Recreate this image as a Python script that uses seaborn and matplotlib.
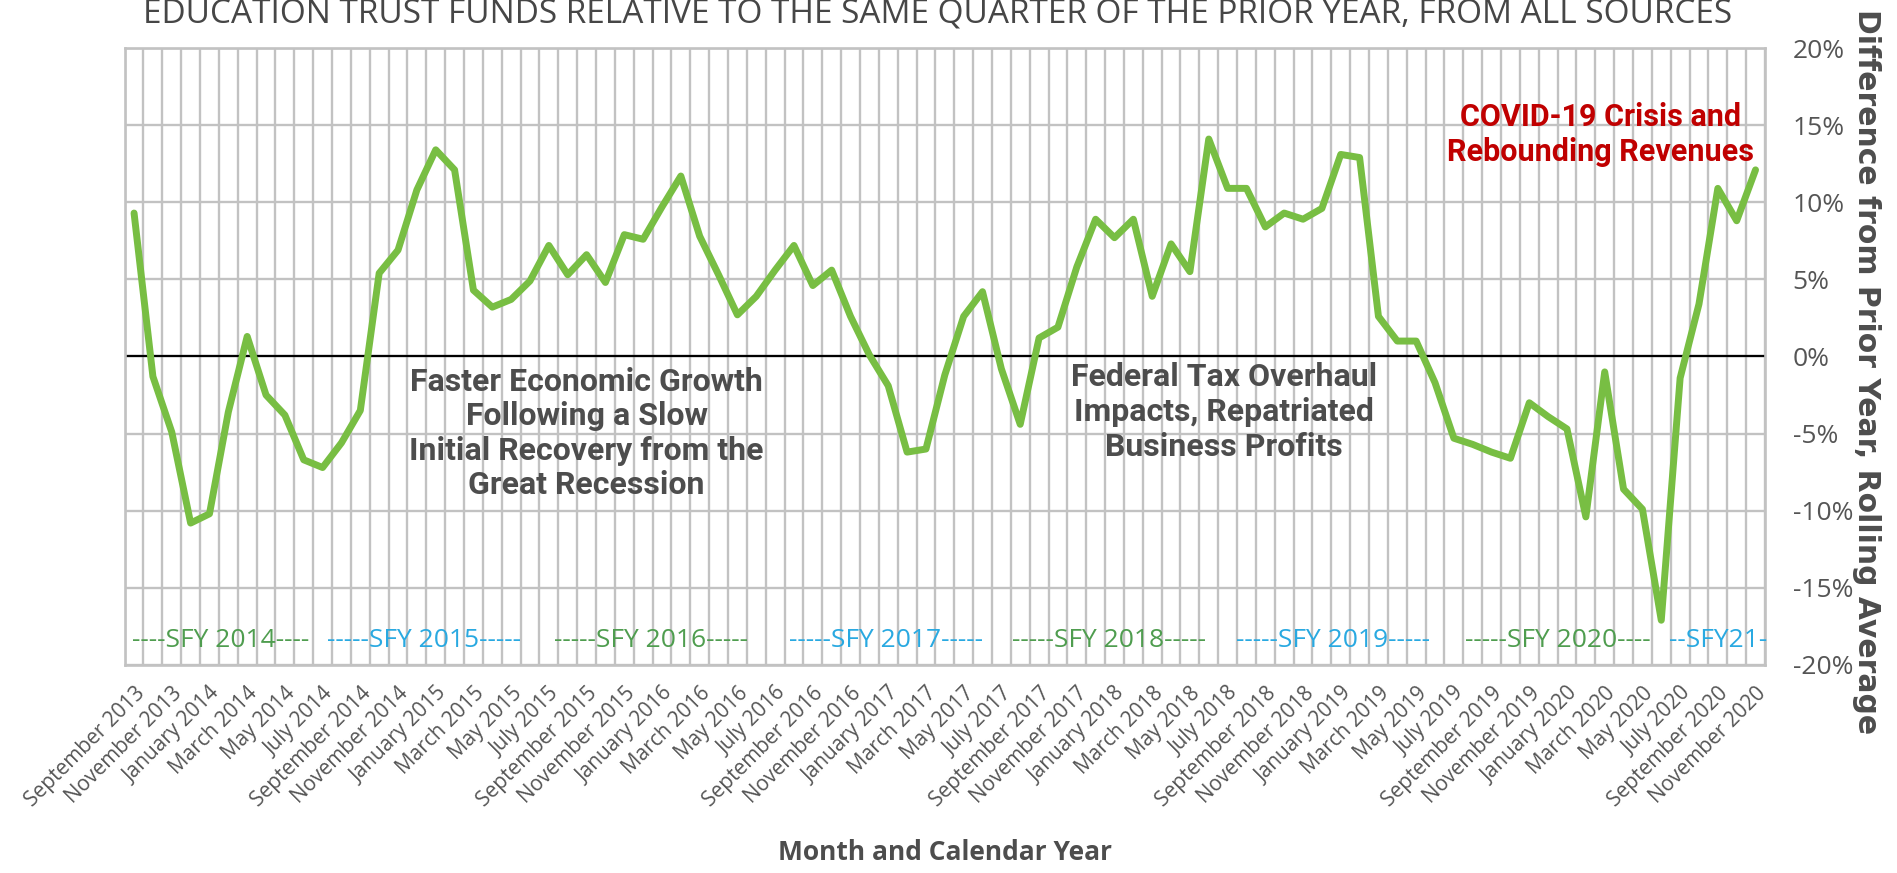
import matplotlib
matplotlib.use("Agg")
import matplotlib.pyplot as plt
import seaborn as sns
import pandas as pd
import numpy as np
from matplotlib.ticker import FixedLocator, FuncFormatter

# ---------------- data ----------------
month_names = ["January", "February", "March", "April", "May", "June", "July",
               "August", "September", "October", "November", "December"]
start_year = 2013
start_month = 9  # September 2013

values = [9.3, -1.3, -4.9, -10.8, -10.2, -3.6, 1.3, -2.5, -3.8, -6.7,
          -7.2, -5.6, -3.5, 5.4, 6.9, 10.8, 13.4, 12.1, 4.3, 3.2,
          3.7, 4.9, 7.2, 5.3, 6.6, 4.8, 7.9, 7.6, 9.7, 11.7,
          7.8, 5.3, 2.7, 3.9, 5.6, 7.2, 4.6, 5.6, 2.6, 0.1,
          -1.9, -6.2, -6.0, -1.2, 2.6, 4.2, -0.8, -4.4, 1.2, 1.9,
          5.8, 8.9, 7.7, 8.9, 3.9, 7.3, 5.5, 14.1, 10.9, 10.9,
          8.4, 9.3, 8.9, 9.6, 13.1, 12.9, 2.6, 1.0, 1.0, -1.7,
          -5.3, -5.7, -6.2, -6.6, -3.0, -3.9, -4.7, -10.4, -1.0, -8.6,
          -9.9, -17.1, -1.4, 3.4, 10.9, 8.8, 12.1]

labels = []
for i in range(len(values)):
    m = (start_month - 1 + i) % 12
    y = start_year + (start_month - 1 + i) // 12
    labels.append(f"{month_names[m]} {y}")

sfy_labels = ["----SFY 2014----", "-----SFY 2015-----", "-----SFY 2016-----",
              "-----SFY 2017-----", "-----SFY 2018-----", "-----SFY 2019-----",
              "-----SFY 2020----", "--SFY21-"]
sfy_centers = [4.6, 15.4, 27.4, 39.9, 51.7, 63.6, 75.5, 84.0]
sfy_colors = ["#4f9d4f", "#29a9e1", "#4f9d4f", "#29a9e1",
              "#4f9d4f", "#29a9e1", "#4f9d4f", "#29a9e1"]

y_ticks = [-20, -15, -10, -5, 0, 5, 10, 15, 20]

df = pd.DataFrame({"idx": np.arange(len(values)), "value": values})

# ---------------- figure ----------------
sns.set_style("white")
plt.rcParams["font.family"] = ["Open Sans", "DejaVu Sans"]

W, H = 1897, 873
fig = plt.figure(figsize=(W / 100, H / 100), dpi=100)
ax = fig.add_axes([0.0657, 0.2383, 0.8647, 0.7067])

grid_c = "#c2c2c2"
n = len(values)
ax.set_xlim(-0.5, n - 0.5)
ax.set_ylim(-20, 20)

# vertical gridlines at category boundaries
ax.xaxis.set_minor_locator(FixedLocator(np.arange(n + 1) - 0.5))
ax.xaxis.set_major_locator(FixedLocator(np.arange(0, n, 2)))
ax.set_xticklabels(labels[::2], rotation=45, ha="right", rotation_mode="anchor",
                   fontsize=15, color="#555555")
ax.grid(which="minor", axis="x", color=grid_c, lw=1.7)
ax.grid(which="major", axis="x", visible=False)
ax.yaxis.set_major_locator(FixedLocator(y_ticks))
ax.grid(which="major", axis="y", color=grid_c, lw=1.7)
ax.tick_params(axis="x", which="both", length=0, pad=13)
ax.set_axisbelow(True)

for s in ax.spines.values():
    s.set_color(grid_c)
    s.set_linewidth(1.9)

ax.axhline(0, color="black", lw=1.6, zorder=2)

sns.lineplot(data=df, x="idx", y="value", ax=ax, color="#78be43", lw=5,
             zorder=3, legend=False)

# right y axis
ax.yaxis.tick_right()
ax.yaxis.set_major_formatter(FuncFormatter(lambda v, p: f"{v:.0f}%"))
ax.tick_params(axis="y", length=0, pad=20, labelsize=19, labelcolor="#555555")

ax.set_xlabel("Month and Calendar Year", fontsize=19, fontweight="bold",
              color="#4d4d4d", labelpad=20)
ax.set_ylabel("")
fig.text(1867 / W, 1 - 372 / H, "Difference from Prior Year, Rolling Average",
         rotation=270, ha="center", va="center", fontsize=21.5,
         fontweight="bold", color="#4d4d4d", family=["DejaVu Sans"])

# SFY labels
for lab, cx, col in zip(sfy_labels, sfy_centers, sfy_colors):
    ax.text(cx, -18.4, lab, ha="center", va="center", fontsize=19, color=col,
            zorder=4)

# annotations
ann_font = ["Roboto", "DejaVu Sans"]
ax.text(24.0, -5.0, "Faster Economic Growth\nFollowing a Slow\nInitial Recovery from the\nGreat Recession",
        ha="center", va="center", fontsize=23, fontweight="bold", color="#4d4d4d",
        family=ann_font, linespacing=1.19, zorder=4)
ax.text(57.8, -3.6, "Federal Tax Overhaul\nImpacts, Repatriated\nBusiness Profits",
        ha="center", va="center", fontsize=23, fontweight="bold", color="#4d4d4d",
        family=ann_font, linespacing=1.19, zorder=4)
ax.text(77.8, 14.4, "COVID-19 Crisis and\nRebounding Revenues",
        ha="center", va="center", fontsize=22, fontweight="bold", color="#c00000",
        family=ann_font, linespacing=1.24, zorder=4)

fig.text(0.494, 1 - 22 / H, "EDUCATION TRUST FUNDS RELATIVE TO THE SAME QUARTER OF THE PRIOR YEAR, FROM ALL SOURCES",
         ha="center", va="baseline", fontsize=24, color="#464646",
         fontweight="medium")

fig.savefig("out.png", dpi=100, facecolor="white")
